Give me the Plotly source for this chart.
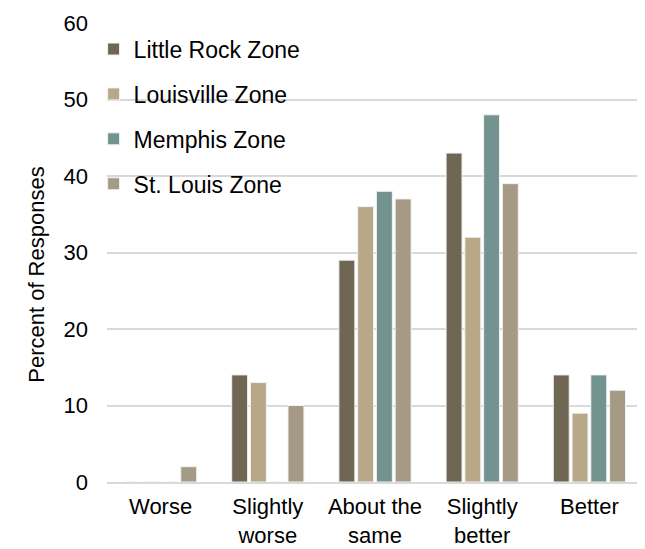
import plotly.graph_objects as go

categories = ["Worse", "Slightly<br>worse", "About the<br>same", "Slightly<br>better", "Better"]
series_names = ["Little Rock Zone", "Louisville Zone", "Memphis Zone", "St. Louis Zone"]
little_rock = [0, 14, 29, 43, 14]
louisville = [0, 13, 36, 32, 9]
memphis = [0, 0, 38, 48, 14]
st_louis = [2, 10, 37, 39, 12]
y_ticks = [0, 10, 20, 30, 40, 50, 60]
y_title = "Percent of Responses"

colors = ["#706654", "#b8a888", "#739391", "#a59a85"]
all_values = [little_rock, louisville, memphis, st_louis]

fig = go.Figure()
for name, vals, col in zip(series_names, all_values, colors):
    fig.add_trace(go.Bar(
        x=categories, y=vals, name=name, legendgroup=name,
        marker=dict(color=col, line=dict(color="#f2f2f2", width=1)),
    ))

fig.add_annotation(
    text=y_title, textangle=-90, xref="paper", yref="paper",
    x=-0.131, y=0.451, xanchor="center", yanchor="middle",
    showarrow=False, font=dict(size=22),
)

fig.update_layout(
    width=645, height=549,
    paper_bgcolor="white", plot_bgcolor="white",
    margin=dict(l=99, r=10, t=15, b=75, autoexpand=False),
    barmode="group", bargap=0.3, bargroupgap=0.15,
    font=dict(family="Liberation Sans, Arial, sans-serif", size=22, color="#000000"),
    legend=dict(
        x=-0.025, y=0.99, xanchor="left", yanchor="top",
        bgcolor="rgba(0,0,0,0)", font=dict(size=23),
        tracegroupgap=12, itemwidth=30,
    ),
    xaxis=dict(
        showgrid=False, showline=True, linecolor="#d9d9d9", linewidth=2,
        ticks="", tickfont=dict(size=22), ticklabelstandoff=4,
    ),
    yaxis=dict(
        range=[0, 60], tickvals=y_ticks, showgrid=True, gridcolor="#d9d9d9", gridwidth=2,
        zeroline=False, showline=False, ticks="", tickfont=dict(size=22),
        ticklabelstandoff=18,
    ),
)

fig.write_html("out.html")
